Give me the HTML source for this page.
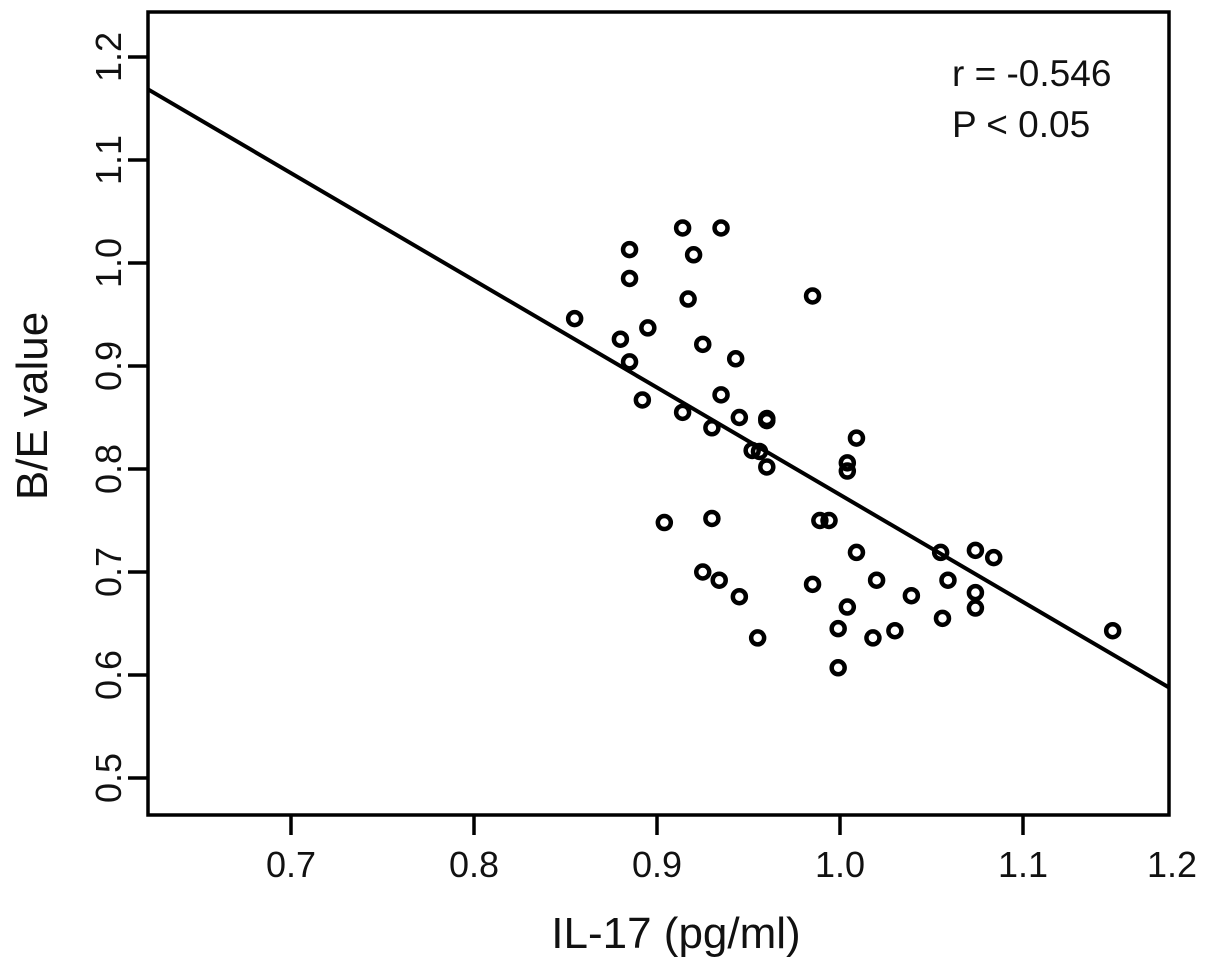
<!DOCTYPE html>
<html><head><meta charset="utf-8"><style>
body{margin:0;background:#fff}
svg text{font-family:"Liberation Sans",sans-serif;fill:#111}
</style></head><body>
<svg id="chart" width="1205" height="974" xmlns="http://www.w3.org/2000/svg">
<g id="plot"></g>
</svg>
<script>
const xs=[0.914,0.935,0.885,0.920,0.885,0.917,0.985,0.855,0.895,0.880,0.925,0.943,0.885,0.892,0.935,0.914,0.945,0.960,0.960,0.930,0.952,0.956,0.960,1.009,1.004,1.004,0.904,0.930,0.989,0.994,1.009,0.925,0.934,0.945,0.985,1.020,1.004,0.999,1.018,0.955,0.999,1.055,1.074,1.084,1.059,1.039,1.074,1.074,1.056,1.030,1.149];
const ys=[1.034,1.034,1.013,1.008,0.985,0.965,0.968,0.946,0.937,0.926,0.921,0.907,0.904,0.867,0.872,0.855,0.850,0.849,0.847,0.840,0.818,0.817,0.802,0.830,0.806,0.798,0.748,0.752,0.750,0.750,0.719,0.700,0.692,0.676,0.688,0.692,0.666,0.645,0.636,0.636,0.607,0.719,0.721,0.714,0.692,0.677,0.680,0.665,0.655,0.643,0.643];
const xTicks=[0.7,0.8,0.9,1.0,1.1,1.2];
const xTickLabels=["0.7","0.8","0.9","1.0","1.1","1.2"];
const yTicks=[0.5,0.6,0.7,0.8,0.9,1.0,1.1,1.2];
const yTickLabels=["0.5","0.6","0.7","0.8","0.9","1.0","1.1","1.2"];
const fitIntercept=1.816, fitSlope=-1.041;

const L=148,R=1169,T=12,B=815;
const X=v=>291+(v-0.7)*1830;
const Y=v=>778-(v-0.5)*1030;
const NS="http://www.w3.org/2000/svg";
const svg=document.getElementById('chart');
function mk(tag,attrs,parent){const e=document.createElementNS(NS,tag);for(const k in attrs)e.setAttribute(k,attrs[k]);(parent||svg).appendChild(e);return e;}

const frame=mk('rect',{x:L,y:T,width:R-L,height:B-T,fill:'none',stroke:'#000','stroke-width':3.5});



xTicks.forEach((t,i)=>{
  const px=X(t);
  if(px<=R+1){const tk=mk('line',{x1:px,x2:px,y1:B,y2:B+20,stroke:'#000','stroke-width':3.5});
  
  }
  const tx=mk('text',{x:Math.min(px,1172),y:877,'font-size':36,'text-anchor':'middle'});
  tx.textContent=xTickLabels[i];
  
  
});
yTicks.forEach((t,i)=>{
  const py=Y(t);
  const tk=mk('line',{x1:L-20,x2:L,y1:py,y2:py,stroke:'#000','stroke-width':3.5});
  
  
  const tx=mk('text',{x:0,y:0,'font-size':36,'text-anchor':'middle',transform:`translate(121,${py}) rotate(-90)`});
  tx.textContent=yTickLabels[i];
  
  
});

const x0=(L-291)/1830+0.7, x1=(R-291)/1830+0.7;
const fit=mk('line',{x1:X(x0),y1:Y(fitIntercept+fitSlope*x0),x2:X(x1),y2:Y(fitIntercept+fitSlope*x1),stroke:'#000','stroke-width':4});



const plot=document.getElementById('plot');
xs.forEach((v,i)=>{
  const c=mk('circle',{cx:X(v),cy:Y(ys[i]),r:6.5,fill:'none',stroke:'#000','stroke-width':4.5},plot);
  
  
});
svg.appendChild(plot);

const r1=mk('text',{x:952,y:86,'font-size':37});r1.textContent='r = -0.546';


const r2=mk('text',{x:952,y:137,'font-size':37});r2.textContent='P < 0.05';


const xl=mk('text',{x:676,y:948,'font-size':44,'text-anchor':'middle'});xl.textContent='IL-17 (pg/ml)';


const yl=mk('text',{x:0,y:0,'font-size':44,'text-anchor':'middle',transform:'translate(47,406) rotate(-90)'});yl.textContent='B/E value';


</script>
</body></html>
